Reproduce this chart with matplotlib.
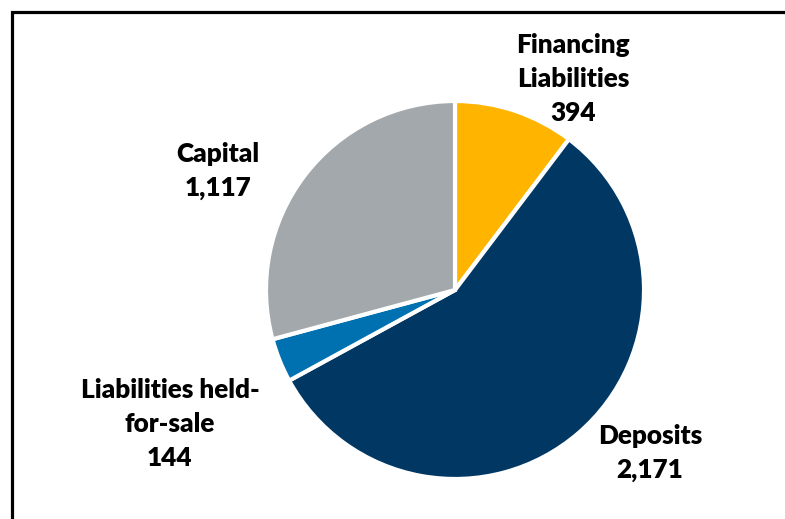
import matplotlib.pyplot as plt
from matplotlib.patches import Rectangle

# ------------ DATA
categories = ["Financing\nLiabilities", "Deposits", "Liabilities held-\nfor-sale", "Capital"]
values = [394, 2171, 144, 1117]
colors = ["#FFB500", "#003763", "#0071B0", "#A2A8AB"]

# label anchor points (pixel coords, y from top)
label_pos = [(573, 79), (650, 453), (170, 424), (218, 171)]

W, H = 785, 519

fig = plt.figure(figsize=(W / 100, H / 100), dpi=100)
ax = fig.add_axes([0, 0, 1, 1])
ax.set_xlim(0, W)
ax.set_ylim(0, H)
ax.set_aspect("equal")
ax.axis("off")

ax.pie(values, colors=colors, startangle=90, counterclock=False,
       center=(455, H - 290), radius=189,
       wedgeprops=dict(edgecolor="white", linewidth=3))
ax.set_xlim(0, W)
ax.set_ylim(0, H)

for cat, val, (px, py) in zip(categories, values, label_pos):
    ax.text(px, H - py, f"{cat}\n{val:,}", ha="center", va="center",
            fontsize=18.8, fontweight="heavy", family="Lato",
            linespacing=1.5, color="black")

# outer frame (cropped at right and bottom)
fig.patches.append(Rectangle((12 / W, -0.05), 1.1, 1 - 12 / H + 0.05,
                             transform=fig.transFigure, fill=False,
                             edgecolor="black", linewidth=2.3))

fig.savefig("out.png", dpi=100)
